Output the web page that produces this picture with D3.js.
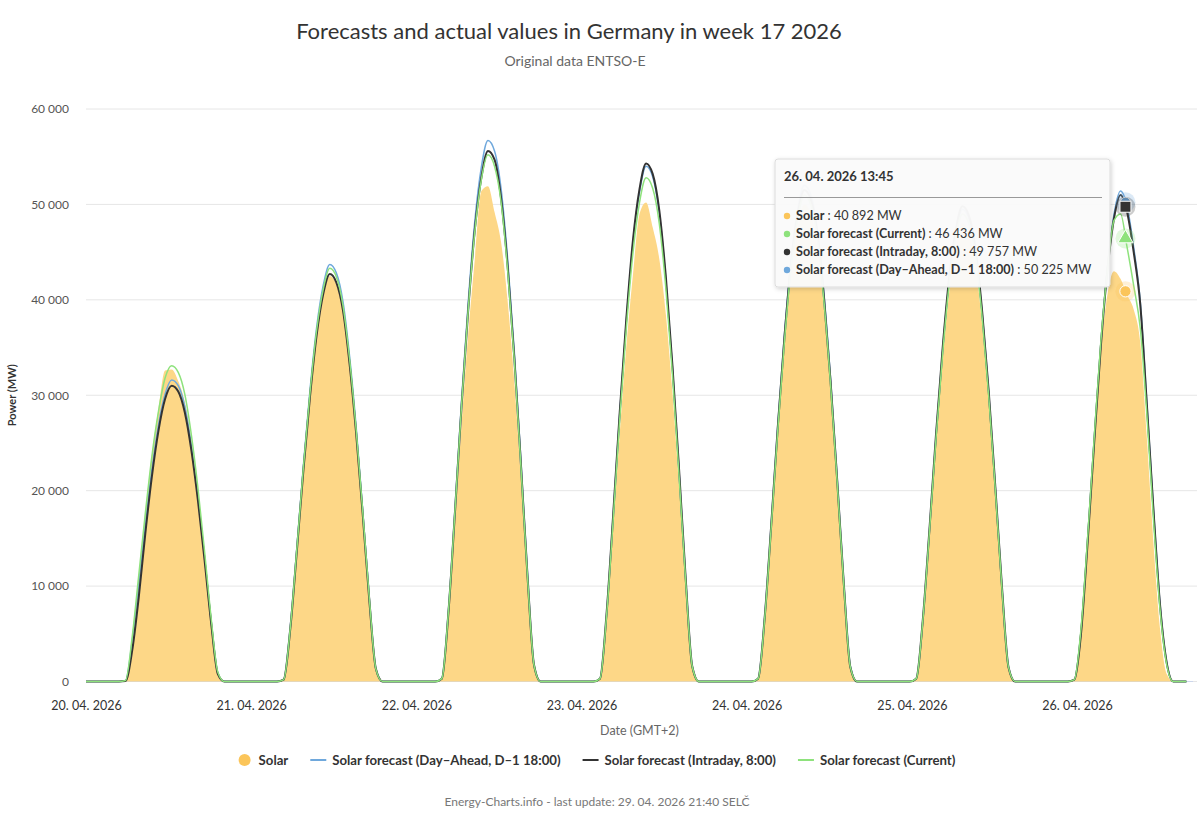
<!DOCTYPE html>
<html>
<head>
<meta charset="utf-8">
<script src="https://cdn.jsdelivr.net/npm/d3@7/dist/d3.min.js"></script>
<style>
  body { margin: 0; background: #fff; }
  svg { font-family: Lato, "Open Sans", sans-serif; }
</style>
</head>
<body>
<svg id="chart" width="1200" height="815"></svg>
<script>
// hourly values (MW), one row per day, 20.04 -> 26.04
var dayLabels = ["20. 04. 2026", "21. 04. 2026", "22. 04. 2026", "23. 04. 2026", "24. 04. 2026", "25. 04. 2026", "26. 04. 2026"];
var yTicks = [0, 10000, 20000, 30000, 40000, 50000, 60000];

var solar = [
  [0,0,0,0,0,0,100,4500,11000,17800,23800,28600,32600,32700,31500,29300,25300,19700,13300,6300,900,0,0,0],
  [0,0,0,0,0,0,200,5500,13600,22100,29800,36100,40400,42500,41600,38700,33200,25900,17400,8500,1300,0,0,0],
  [0,0,0,0,0,0,300,6800,16600,27000,36400,44200,51400,51900,49200,46000,39800,31400,21300,10400,1500,0,0,0],
  [0,0,0,0,0,0,300,6500,16000,26000,35100,42600,49000,50200,47600,44300,38500,30300,20500,10000,1500,0,0,0],
  [0,0,0,0,0,0,300,6500,16000,26000,35000,42500,47500,50000,49000,45500,39000,30500,20500,10000,1500,0,0,0],
  [0,0,0,0,0,0,300,6200,15400,25000,33600,40800,45600,48000,47000,43700,37400,29300,19700,9600,1400,0,0,0],
  [0,0,0,0,0,0,200,6000,15500,25500,34500,40500,43000,42200,40500,39000,35500,25500,14500,5500,800,0,0,0]
];
var forecastDayAhead = [
  [0,0,0,0,0,0,100,4200,10200,16500,22200,26900,30100,31600,31000,28800,24700,19300,13000,6300,900,0,0,0],
  [0,0,0,0,0,0,200,5700,14000,22700,30600,37100,41500,43700,42800,39800,34100,26700,17900,8700,1300,0,0,0],
  [0,0,0,0,0,0,300,7400,18100,29500,39700,48200,53900,56700,55600,51600,44200,34600,23200,11300,1700,0,0,0],
  [0,0,0,0,0,0,300,7000,17300,28100,37800,45900,51300,54000,52900,49100,42100,32900,22100,10800,1600,0,0,0],
  [0,0,0,0,0,0,300,6800,16600,27000,36400,44200,49400,52000,51000,47300,40600,31700,21300,10400,1600,0,0,0],
  [0,0,0,0,0,0,300,6400,15800,25700,34700,42100,47000,49500,48500,45000,38600,30200,20300,9900,1500,0,0,0],
  [0,0,0,0,0,0,200,5200,14800,25300,35300,43300,48900,51400,49800,45500,39800,29200,18100,8100,2000,0,0,0]
];
var forecastIntraday = [
  [0,0,0,0,0,0,50,3200,8800,15500,21500,26300,29600,31000,30400,28200,24200,18900,12700,6100,800,0,0,0],
  [0,0,0,0,0,0,200,5500,13700,22200,29900,36300,40600,42700,41800,38900,33300,26000,17500,8500,1300,0,0,0],
  [0,0,0,0,0,0,300,7200,17800,28900,38900,47300,52800,55600,54700,50600,43400,33900,22800,11100,1700,0,0,0],
  [0,0,0,0,0,0,300,7100,17400,28200,38000,46200,51600,54300,53200,49400,42400,33100,22300,10900,1600,0,0,0],
  [0,0,0,0,0,0,300,6700,16500,26800,36100,43800,48900,51500,50500,46900,40200,31400,21100,10300,1500,0,0,0],
  [0,0,0,0,0,0,300,6500,15900,25900,34900,42300,47300,49800,48800,45300,38800,30400,20400,10000,1500,0,0,0],
  [0,0,0,0,0,0,200,5000,14500,25000,35000,43000,48500,51000,49200,45000,39500,29000,18000,8000,2000,0,0,0]
];
var forecastCurrent = [
  [0,0,0,0,0,0,100,4600,11100,17600,23600,28300,31800,33100,32400,30100,25800,20200,13600,6600,1000,0,0,0],
  [0,0,0,0,0,0,200,5600,13900,22500,30300,36800,41100,43300,42400,39400,33800,26400,17800,8700,1300,0,0,0],
  [0,0,0,0,0,0,300,7300,17900,29000,38900,47100,52600,55200,54000,50200,43000,33700,22600,11000,1700,0,0,0],
  [0,0,0,0,0,0,300,6900,16900,27500,37000,44900,50200,52800,51700,48000,41200,32200,21600,10600,1600,0,0,0],
  [0,0,0,0,0,0,300,6600,16300,26500,35700,43400,48500,51000,50000,46400,39800,31100,20900,10200,1500,0,0,0],
  [0,0,0,0,0,0,300,6400,15700,25500,34300,41700,46600,49000,48000,44600,38200,29900,20100,9800,1500,0,0,0],
  [0,0,0,0,0,0,200,5500,15000,25500,35500,43000,48300,49000,45500,41500,37000,28000,17000,7500,1800,0,0,0]
];

// hovered point shown in the tooltip: solar, day-ahead, intraday, current
var hoverValues = [40892, 50225, 49757, 46436];
var tooltipOrder = [0, 3, 2, 1];

var seriesNames = ["Solar", "Solar forecast (Day\u2013Ahead, D\u20131 18:00)", "Solar forecast (Intraday, 8:00)", "Solar forecast (Current)"];
var seriesColors = ["#fbc55a", "#6fa8dc", "#333333", "#8ee27c"];
var seriesWidths = [0, 1.5, 2, 1.5];

var svg = d3.select("#chart");
var plotLeft = 86, plotRight = 1193, plotTop = 109, plotBottom = 681.5;

var start = new Date(2026, 3, 20);
var end = new Date(2026, 3, 27);
var hoverTime = new Date(2026, 3, 26, 13, 45);

var x = d3.scaleTime().domain([start, end]).range([plotLeft, plotRight]);
var y = d3.scaleLinear().domain([0, 60000]).range([plotBottom, plotTop]);
var xLabel = d3.scalePoint().domain(dayLabels).range([86, 1077]);

var loc = d3.formatLocale({ decimal: ",", thousands: " ", grouping: [3], currency: ["", ""] });
var fmt = loc.format(",d");

function toPoints(days) {
    return days.flat().map(function (v, i) {
        return { t: d3.timeHour.offset(start, i), v: v };
    });
}
var allSeries = [solar, forecastDayAhead, forecastIntraday, forecastCurrent].map(toPoints);

//titles
svg.append("text")
    .attr("x", 569).attr("y", 39)
    .attr("text-anchor", "middle")
    .style("font-size", "22px").style("fill", "#333")
    .text("Forecasts and actual values in Germany in week 17 2026");
svg.append("text")
    .attr("x", 575).attr("y", 66)
    .attr("text-anchor", "middle")
    .style("font-size", "14px").style("fill", "#666")
    .text("Original data ENTSO-E");

//grid
svg.append("g").selectAll("line").data(yTicks).enter().append("line")
    .attr("x1", plotLeft).attr("x2", plotRight + 4)
    .attr("y1", function (d) { return y(d); })
    .attr("y2", function (d) { return y(d); })
    .style("stroke", "#e6e6e6").style("stroke-width", 1);

//y axis
var yAxis = svg.append("g")
    .attr("transform", "translate(" + plotLeft + ",0)")
    .call(d3.axisLeft(y).tickValues(yTicks).tickFormat(fmt).tickSize(0).tickPadding(17));
yAxis.select(".domain").remove();
yAxis.selectAll("text").style("font-size", "12px").style("fill", "#555").style("font-family", "Lato, sans-serif");

svg.append("text")
    .attr("transform", "translate(16," + ((plotTop + plotBottom) / 2) + ") rotate(-90)")
    .attr("text-anchor", "middle")
    .style("font-size", "11px").style("font-weight", "bold").style("fill", "#333")
    .text("Power (MW)");

//x axis
var xAxis = svg.append("g")
    .attr("transform", "translate(0," + plotBottom + ")")
    .call(d3.axisBottom(xLabel).tickSize(0).tickPadding(20));
xAxis.select(".domain").remove();
xAxis.selectAll("text").style("font-size", "12.5px").style("fill", "#333").style("font-family", "Lato, sans-serif");

svg.append("line")
    .attr("x1", plotLeft).attr("x2", plotRight)
    .attr("y1", plotBottom).attr("y2", plotBottom)
    .style("stroke", "#ccd6eb");

svg.append("text")
    .attr("x", (plotLeft + plotRight) / 2).attr("y", 735)
    .attr("text-anchor", "middle")
    .style("font-size", "12.5px").style("fill", "#666")
    .text("Date (GMT+2)");

//solar area
var area = d3.area()
    .x(function (d) { return x(d.t); })
    .y0(y(0))
    .y1(function (d) { return y(d.v); })
    .curve(d3.curveMonotoneX);
svg.append("path")
    .datum(allSeries[0])
    .attr("d", area)
    .style("fill", "#fdd787")
    .style("stroke", "none");

//forecast lines
var line = d3.line()
    .x(function (d) { return x(d.t); })
    .y(function (d) { return y(d.v); })
    .curve(d3.curveMonotoneX);
[1, 2, 3].forEach(function (i) {
    svg.append("path")
        .datum(allSeries[i])
        .attr("d", line)
        .style("fill", "none")
        .style("stroke", seriesColors[i])
        .style("stroke-width", seriesWidths[i])
        .style("stroke-linejoin", "round");
});

//hover markers
var hx = x(hoverTime);
var markerTypes = [d3.symbolCircle, d3.symbolCircle, d3.symbolSquare, d3.symbolTriangle];
var markerSizes = [100, 80, 121, 100];
[0, 1, 2, 3].forEach(function (i) {
    var g = svg.append("g").attr("transform", "translate(" + hx + "," + y(hoverValues[i]) + ")");
    g.append("circle").attr("r", 10)
        .style("fill", seriesColors[i]).style("opacity", 0.25);
    g.append("path")
        .attr("d", d3.symbol().type(markerTypes[i]).size(markerSizes[i]))
        .style("fill", seriesColors[i])
        .style("stroke", "#fff").style("stroke-width", 1);
});

//tooltip
var defs = svg.append("defs");
var filter = defs.append("filter").attr("id", "shadow")
    .attr("x", "-10%").attr("y", "-10%").attr("width", "120%").attr("height", "130%");
filter.append("feDropShadow")
    .attr("dx", 1).attr("dy", 1.5).attr("stdDeviation", 2)
    .attr("flood-color", "#000").attr("flood-opacity", 0.18);

var tip = svg.append("g").attr("transform", "translate(775,159)");
tip.append("rect")
    .attr("width", 335).attr("height", 128).attr("rx", 3)
    .style("fill", "rgba(250,250,250,0.97)")
    .style("stroke", "#dcdcdc")
    .attr("filter", "url(#shadow)");
tip.append("text")
    .attr("x", 9).attr("y", 22)
    .style("font-size", "13px").style("font-weight", "bold").style("fill", "#333")
    .text(d3.timeFormat("%d. %m. %Y %H:%M")(hoverTime));
tip.append("line")
    .attr("x1", 9).attr("x2", 327).attr("y1", 38.5).attr("y2", 38.5)
    .style("stroke", "#999").style("stroke-width", 1);
tooltipOrder.forEach(function (s, k) {
    var ry = 61 + k * 18;
    tip.append("circle")
        .attr("cx", 12).attr("cy", ry - 4).attr("r", 3.2)
        .style("fill", seriesColors[s]);
    var t = tip.append("text")
        .attr("x", 21).attr("y", ry)
        .style("font-size", "12.6px").style("fill", "#333");
    t.append("tspan").style("font-weight", "bold").text(seriesNames[s]);
    t.append("tspan").text(" : " + fmt(hoverValues[s]) + " MW");
});

//legend
var legend = svg.append("g");
var lx = 0;
seriesNames.forEach(function (name, i) {
    var item = legend.append("g").attr("transform", "translate(" + lx + ",0)");
    if (i === 0) {
        item.append("circle").attr("cx", 8).attr("cy", 0).attr("r", 6)
            .style("fill", seriesColors[i]);
    } else {
        item.append("line").attr("x1", 0).attr("x2", 16).attr("y1", 0).attr("y2", 0)
            .style("stroke", seriesColors[i]).style("stroke-width", 2);
    }
    var txt = item.append("text")
        .attr("x", 22).attr("y", 4.5)
        .style("font-size", "13.2px").style("font-weight", "bold").style("fill", "#333")
        .text(name);
    lx += 22 + txt.node().getComputedTextLength() + 22;
});
var legendWidth = lx - 22;
legend.attr("transform", "translate(" + (596 - legendWidth / 2) + ",760)");

//credits
svg.append("text")
    .attr("x", 597).attr("y", 806)
    .attr("text-anchor", "middle")
    .style("font-size", "12px").style("fill", "#777")
    .text("Energy-Charts.info - last update: 29. 04. 2026 21:40 SEL\u010C");
</script>
</body>
</html>
